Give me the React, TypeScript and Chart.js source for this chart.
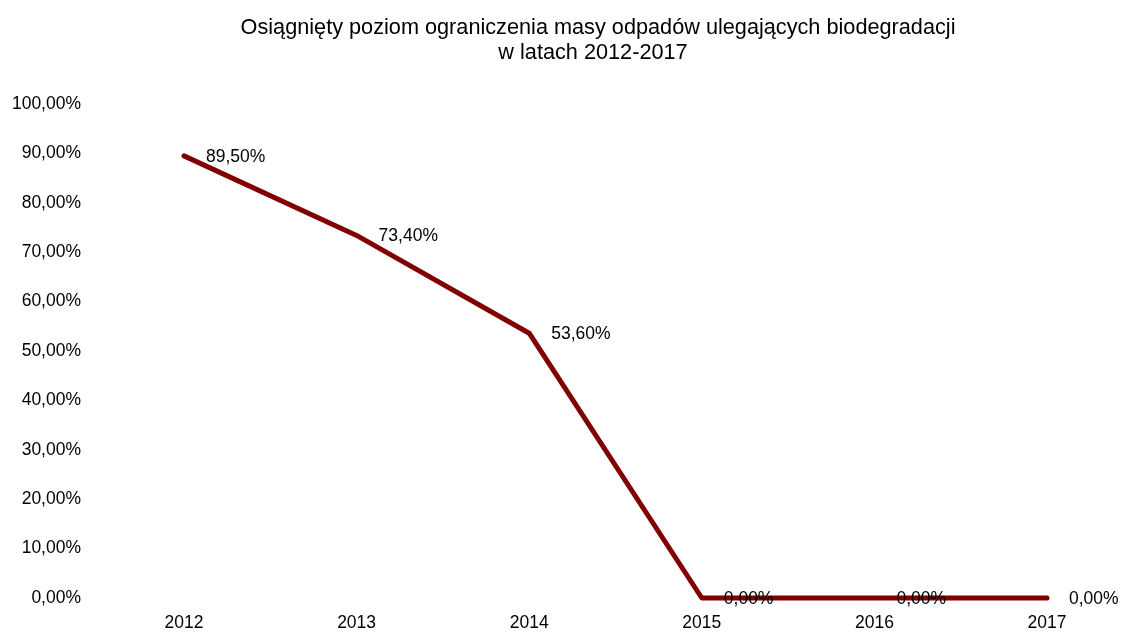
import React, { useEffect, useRef } from "react";
import { Chart, registerables } from "chart.js";

Chart.register(...registerables);

const years: string[] = ["2012", "2013", "2014", "2015", "2016", "2017"];
const values: number[] = [89.5, 73.4, 53.6, 0, 0, 0];
const titleLines: string[] = [
  "Osiągnięty poziom ograniczenia masy odpadów ulegających biodegradacji",
  "w latach 2012-2017",
];

const FONT = "'Liberation Sans', Arial, sans-serif";
const fmt = (v: number) => v.toFixed(2).replace(".", ",") + "%";

const labelPlugin = {
  id: "pointLabels",
  afterDatasetsDraw(chart: any) {
    const ctx = chart.ctx;
    const meta = chart.getDatasetMeta(0);
    ctx.save();
    ctx.font = `17.5px ${FONT}`;
    ctx.fillStyle = "#000";
    ctx.textAlign = "left";
    ctx.textBaseline = "middle";
    meta.data.forEach((pt: any, i: number) => {
      ctx.fillText(fmt(values[i]), pt.x + 22, pt.y + 1);
    });
    ctx.restore();
  },
};

const titlePlugin = {
  id: "centeredTitle",
  afterDraw(chart: any) {
    const ctx = chart.ctx;
    ctx.save();
    ctx.font = `21.7px ${FONT}`;
    ctx.fillStyle = "#000";
    ctx.textAlign = "center";
    ctx.textBaseline = "alphabetic";
    ctx.fillText(titleLines[0], 598, 34);
    ctx.fillText(titleLines[1], 593, 59);
    ctx.restore();
  },
};

export default function App() {
  const ref = useRef<HTMLCanvasElement | null>(null);
  useEffect(() => {
    if (!ref.current) return;
    const chart = new Chart(ref.current, {
      type: "line",
      data: {
        labels: years,
        datasets: [
          {
            data: values,
            borderColor: "#800000",
            borderWidth: 5,
            pointRadius: 0,
            borderCapStyle: "round",
            borderJoinStyle: "round",
            tension: 0,
            clip: false,
          },
        ],
      },
      options: {
        animation: false,
        responsive: false,
        devicePixelRatio: 1,
        layout: { padding: { left: 0, right: 83, top: 104, bottom: 0 } },
        plugins: {
          legend: { display: false },
          tooltip: { enabled: false },
          title: { display: false },
        },
        scales: {
          x: {
            offset: false,
            grid: { display: false, drawTicks: false },
            border: { display: false },
            ticks: {
              color: "#000",
              font: { family: FONT, size: 17.5 },
              padding: 15,
              maxRotation: 0,
            },
            afterFit: (s: any) => {
              s.height = 35;
              s.paddingLeft = 0;
              s.paddingRight = 0;
            },
          },
          y: {
            min: 0,
            max: 100,
            grid: { display: false, drawTicks: false },
            border: { display: false },
            ticks: {
              stepSize: 10,
              color: "#000",
              font: { family: FONT, size: 17.5 },
              padding: 103,
              callback: (v: any) => fmt(Number(v)),
            },
            afterFit: (s: any) => {
              s.width = 184;
              s.paddingTop = 0;
              s.paddingBottom = 0;
            },
          },
        },
      },
      plugins: [labelPlugin, titlePlugin],
    } as any);
    return () => chart.destroy();
  }, []);
  return (
    <div style={{ position: "fixed", left: 0, top: 0, width: 1130, height: 633, background: "#fff" }}>
      <canvas ref={ref} width={1130} height={633} style={{ display: "block", width: 1130, height: 633 }} />
    </div>
  );
}
